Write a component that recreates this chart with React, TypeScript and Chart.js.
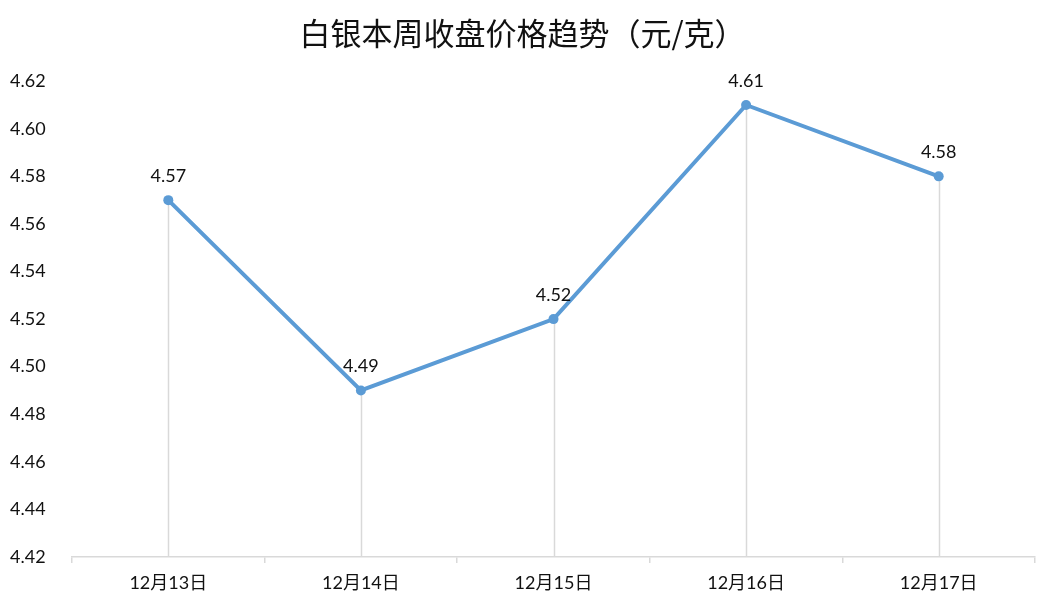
import React, { useEffect, useRef } from "react";
import { Chart, registerables } from "chart.js";

Chart.register(...registerables);

const categories = ["12月13日", "12月14日", "12月15日", "12月16日", "12月17日"];
const prices = [4.57, 4.49, 4.52, 4.61, 4.58];
const titleText = "白银本周收盘价格趋势（元/克）";
const yMin = 4.42;
const yMax = 4.62;
const yStep = 0.02;

const FONT = "Lato, 'Noto Sans CJK SC', sans-serif";
const TITLE_FONT = "'Noto Sans CJK SC', sans-serif";

const dropLines = {
  id: "dropLines",
  beforeDatasetsDraw(chart: any) {
    const { ctx, chartArea } = chart;
    const meta = chart.getDatasetMeta(0);
    ctx.save();
    ctx.strokeStyle = "#d9d9d9";
    ctx.lineWidth = 1.5;
    meta.data.forEach((pt: any) => {
      ctx.beginPath();
      ctx.moveTo(Math.round(pt.x) + 0.5, pt.y);
      ctx.lineTo(Math.round(pt.x) + 0.5, chartArea.bottom);
      ctx.stroke();
    });
    ctx.restore();
  },
};

const dataLabels = {
  id: "dataLabels",
  afterDatasetsDraw(chart: any) {
    const { ctx } = chart;
    const meta = chart.getDatasetMeta(0);
    const ds = chart.data.datasets[0].data;
    ctx.save();
    ctx.fillStyle = "#111";
    ctx.font = `18px ${FONT}`;
    ctx.textAlign = "center";
    ctx.textBaseline = "alphabetic";
    meta.data.forEach((pt: any, i: number) => {
      ctx.fillText(Number(ds[i]).toFixed(2), pt.x, pt.y - 18);
    });
    ctx.restore();
  },
};

export default function App() {
  const ref = useRef<HTMLCanvasElement | null>(null);
  useEffect(() => {
    if (!ref.current) return;
    const chart = new Chart(ref.current, {
      type: "line",
      data: {
        labels: categories,
        datasets: [
          {
            data: prices,
            borderColor: "#5b9bd5",
            backgroundColor: "#5b9bd5",
            borderWidth: 4,
            pointRadius: 5,
            pointHoverRadius: 5,
            pointBackgroundColor: "#5b9bd5",
            pointBorderWidth: 0,
            tension: 0,
          },
        ],
      },
      options: {
        animation: false,
        responsive: false,
        maintainAspectRatio: false,
        layout: { padding: { left: 10, right: 25, top: 0, bottom: 0 } },
        plugins: {
          legend: { display: false },
          tooltip: { enabled: false },
          title: {
            display: true,
            text: titleText,
            color: "#111",
            font: { family: TITLE_FONT, size: 31, weight: "normal" },
            padding: { top: 15, bottom: 29 },
          },
        },
        scales: {
          x: {
            type: "category",
            offset: true,
            grid: {
              display: true,
              offset: true,
              drawOnChartArea: false,
              drawTicks: true,
              tickLength: 6,
              color: "#d9d9d9",
              lineWidth: 1.5,
            },
            border: { display: true, color: "#d9d9d9", width: 1.5 },
            ticks: {
              color: "#111",
              font: { family: FONT, size: 18 },
              padding: 9,
              maxRotation: 0,
            },
            afterFit(scale: any) {
              scale.height = 52;
            },
          },
          y: {
            min: yMin,
            max: yMax,
            grid: { display: false, drawTicks: false },
            border: { display: false },
            ticks: {
              stepSize: yStep,
              color: "#111",
              font: { family: FONT, size: 18 },
              crossAlign: "far",
              padding: 0,
              callback: (v: any) => Number(v).toFixed(2),
            },
            afterFit(scale: any) {
              scale.width = 62;
            },
          },
        },
      },
      plugins: [dropLines, dataLabels],
    });
    return () => chart.destroy();
  }, []);
  return (
    <div style={{ position: "fixed", left: 0, top: 0, width: 1060, height: 609, background: "#fff" }}>
      <canvas ref={ref} width={1060} height={609} style={{ display: "block", width: 1060, height: 609 }} />
    </div>
  );
}
